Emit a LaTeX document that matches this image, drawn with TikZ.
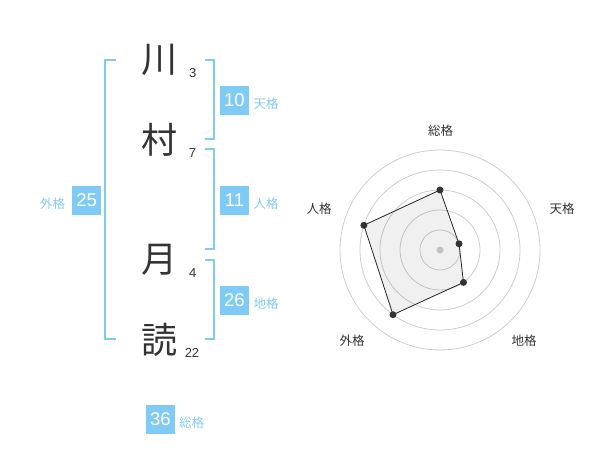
\documentclass[tikz,border=0pt]{standalone}
\usepackage{fontspec}
\setmainfont{Liberation Sans}
\newfontfamily\jp{Noto Sans CJK JP}
\definecolor{kblue}{HTML}{80CBF5}
\definecolor{ink}{HTML}{333333}
\begin{document}
\begin{tikzpicture}[x=1pt,y=-1pt,
 kanji/.style={font=\jp\fontsize{36}{36}\selectfont, text=ink, inner sep=0},
 strokes/.style={font=\fontsize{13}{13}\selectfont, text=ink, inner sep=0},
 numbox/.style={fill=kblue, text=white, minimum size=29pt, inner sep=0, font=\fontsize{18.5}{18.5}\selectfont},
 kaku/.style={font=\jp\fontsize{12.5}{12.5}\selectfont, text=kblue, inner sep=0},
 axislabel/.style={font=\jp\fontsize{12.5}{12.5}\selectfont, text=ink, inner sep=0},
 bracket/.style={draw=kblue, line width=2pt},
 ring/.style={draw=black!20, line width=0.8pt},
 vdot/.style={circle, fill=ink, minimum size=7pt, inner sep=0},
 poly/.style={draw=black!85, line width=0.8pt, fill=black, fill opacity=0.06}
]
\useasboundingbox (0,0) rectangle (600,470);
% name characters
\node[kanji] (k1) at (159.3,60) {川};
\node[kanji] (k2) at (159.3,140) {村};
\node[kanji] (k3) at (159.3,260) {月};
\node[kanji] (k4) at (159.3,340) {読};
\node[strokes] (s1) at (192.7,72.7) {3};
\node[strokes] (s2) at (192.5,152.7) {7};
\node[strokes] (s3) at (192.7,272.7) {4};
\node[strokes] (s4) at (192,352.7) {22};
% brackets
\draw[bracket] (116,60) -- (105,60) -- (105,339.5) -- (116,339.5);
\draw[bracket] (205,60) -- (214.3,60) -- (214.3,139.3) -- (205,139.3);
\draw[bracket] (205,149.3) -- (214.3,149.3) -- (214.3,249.3) -- (205,249.3);
\draw[bracket] (205,260) -- (214.3,260) -- (214.3,339.5) -- (205,339.5);
% boxes
\node[numbox] (ten) at (234.5,100.5) {10};
\node[kaku] (tenl) at (266,104) {天格};
\node[numbox] (jin) at (234.5,200.5) {11};
\node[kaku] (jinl) at (266,204) {人格};
\node[numbox] (gai) at (86.7,200.5) {25};
\node[kaku] (gail) at (52.7,204) {外格};
\node[numbox] (chi) at (234.5,300.5) {26};
\node[kaku] (chil) at (266,304) {地格};
\node[numbox] (sou) at (160.5,419.5) {36};
\node[kaku] (soul) at (191.7,422.7) {総格};
% radar
\coordinate (c) at (440,250);
\foreach \r in {20,40,60,80,100} \draw[ring] (c) circle[radius=\r];
\node[circle, fill=black!20, minimum size=7pt, inner sep=0] (cd) at (c) {};
\coordinate (pS) at (440,190);
\coordinate (pT) at (459.0,243.8);
\coordinate (pC) at (463.5,282.4);
\coordinate (pG) at (393.0,314.7);
\coordinate (pJ) at (363.9,225.3);
\draw[poly] (pS) -- (pT) -- (pC) -- (pG) -- (pJ) -- cycle;
\foreach \p in {pS,pT,pC,pG,pJ} \node[vdot] (d\p) at (\p) {};
\node[axislabel] (aS) at (440.7,130.7) {総格};
\node[axislabel] (aT) at (562,209) {天格};
\node[axislabel] (aC) at (524,341) {地格};
\node[axislabel] (aG) at (352,341) {外格};
\node[axislabel] (aJ) at (319,209) {人格};
\end{tikzpicture}
\end{document}
